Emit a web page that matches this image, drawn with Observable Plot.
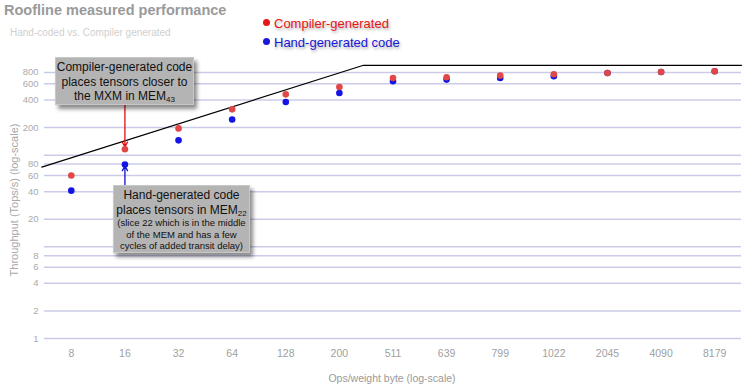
<!DOCTYPE html>
<html><head><meta charset="utf-8">
<script src="https://cdn.jsdelivr.net/npm/d3@7"></script>
<script src="https://cdn.jsdelivr.net/npm/@observablehq/plot@0.6"></script>
<style>
body{margin:0;background:#fff;font-family:"Liberation Sans",Arial,sans-serif;}
#wrap{position:relative;width:743px;height:387px;overflow:hidden;}
.abs{position:absolute;white-space:nowrap;}
#title{left:4px;top:2px;font-size:14.5px;font-weight:bold;color:#9a9a9a;}
#subtitle{left:10px;top:27px;font-size:10px;color:#cfcfcf;}
.leg{left:263px;font-size:13px;text-shadow:1px 2px 3px rgba(0,0,0,0.35);}
.leg .dot{display:inline-block;width:7px;height:7px;border-radius:50%;margin-right:4px;vertical-align:2px;}
#leg1{top:16px;color:#e81515;}
#leg2{top:35px;color:#1818d8;}
#ylab{left:14px;top:200px;font-size:11px;color:#a8a8a8;transform:translate(-50%,-50%) rotate(-90deg);}
#xlab{left:392px;top:372px;font-size:10.5px;color:#9a9a9a;transform:translateX(-50%);}
.box{position:absolute;background:#b4b4b4;border:1px solid #c8c8c8;box-shadow:3px 4px 4px rgba(0,0,0,0.45);text-align:center;color:#111;font-size:12px;line-height:14.5px;box-sizing:border-box;}
#box1{left:55px;top:57px;width:139px;height:48px;padding-top:2px;}
#box2{left:113px;top:185px;width:137px;height:68px;padding-top:2px;}
#box2 .small{font-size:9.5px;line-height:11.5px;}
sub{font-size:8px;vertical-align:-2px;line-height:0;}
</style></head><body><div id="wrap"></div>
<script>
const categories = ["8","16","32","64","128","200","511","639","799","1022","2045","4090","8179"];
const compiler = [60,116,196,316,461,554,695,709,738,762,787,807,822];
const hand = [41,79,145,245,380,476,640,667,695,725,787,807,822];
const yTicks = [1,2,4,6,8,20,40,60,80,200,400,600,800];
const yGrid = [1,2,4,6,8,10,20,40,60,80,100,200,400,600,800];
// roofline corner points (category index, throughput)
const roofX = [-0.55, 5.45, 12.5];
const roofY = [74, 956, 956];
// annotation arrows: category index, from value, to value
const arrowCat = [1, 1];
const arrowFrom = [360, 47];
const arrowTo = [124, 76];
const arrowColor = ["#e01010", "#1010d0"];

const compData = compiler.map((v,i)=>({i, v}));
const handData = hand.map((v,i)=>({i, v}));
const roof = roofX.map((x,k)=>({x, y: roofY[k]}));
const arrows = arrowCat.map((c,k)=>({x: c, y1: arrowFrom[k], y2: arrowTo[k], c: arrowColor[k]}));

const chart = Plot.plot({
  width: 743, height: 387,
  marginLeft: 44, marginRight: 2, marginTop: 63, marginBottom: 49,
  style: {fontFamily: '"Liberation Sans", Arial, sans-serif', background: "transparent"},
  x: {type: "linear", domain: [-0.5, 12.5]},
  y: {type: "log", domain: [1, 1000], axis: null},
  marks: [
    Plot.ruleY(yGrid, {stroke: "#cbcbe8", strokeWidth: 1.5}),
    Plot.text(yTicks, {y: d => d, text: d => String(d), frameAnchor: "left", textAnchor: "end", dx: -6, fontSize: 9.5, fill: "#aaaaaa"}),
    Plot.axisX({ticks: d3.range(categories.length), tickFormat: i => categories[i], tickSize: 0, tickPadding: 11, fontSize: 10.5, color: "#a0a0a0", label: null}),
    Plot.line(roof, {x: "x", y: "y", stroke: "#000", strokeWidth: 1.2}),
    Plot.arrow(arrows, {x: "x", y1: "y1", y2: "y2", stroke: "c", strokeWidth: 1.3, headLength: 6, insetEnd: 0}),
    Plot.dot(handData, {x: "i", y: "v", r: 3.3, fill: "#1414e6"}),
    Plot.dot(compData, {x: "i", y: "v", r: 3.3, fill: "#e04848"})
  ]
});
const wrap = document.getElementById("wrap");
wrap.appendChild(chart);
chart.style.position = "absolute"; chart.style.left = "0"; chart.style.top = "0";
wrap.insertAdjacentHTML("beforeend", `
<div id="title" class="abs">Roofline measured performance</div>
<div id="subtitle" class="abs">Hand-coded vs. Compiler generated</div>
<div id="leg1" class="abs leg"><span class="dot" style="background:#e81515"></span>Compiler-generated</div>
<div id="leg2" class="abs leg"><span class="dot" style="background:#1818d8"></span>Hand-generated code</div>
<div id="ylab" class="abs">Throughput (Tops/s) (log-scale)</div>
<div id="xlab" class="abs">Ops/weight byte (log-scale)</div>
<div id="box1" class="box">Compiler-generated code<br>places tensors closer to<br>the MXM in MEM<sub>43</sub></div>
<div id="box2" class="box">Hand-generated code<br>places tensors in MEM<sub>22</sub><div class="small">(slice 22 which is in the middle<br>of the MEM and has a few<br>cycles of added transit delay)</div></div>
`);
</script></body></html>
